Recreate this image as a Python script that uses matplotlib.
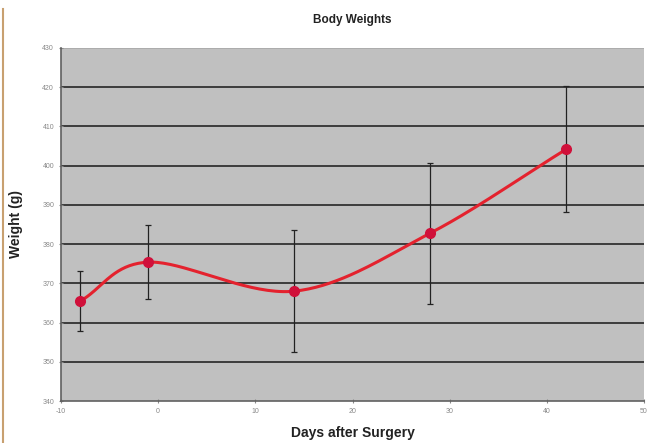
import matplotlib
matplotlib.use("Agg")
import matplotlib.pyplot as plt
import numpy as np
from matplotlib.lines import Line2D

plt.rcParams["font.family"] = ["Liberation Sans", "DejaVu Sans"]
plt.rcParams["axes.unicode_minus"] = False

days = [-8, -1, 14, 28, 42]
weight = [365.5, 375.4, 368.0, 382.8, 404.2]
err = [7.7, 9.4, 15.6, 18.0, 16.1]

x_ticks = [-10, 0, 10, 20, 30, 40, 50]
y_ticks = [340, 350, 360, 370, 380, 390, 400, 410, 420, 430]


def smooth(xs, ys, n=40):
    # Catmull-Rom through the points, like Excel's smoothed line
    xs = np.asarray(xs, float); ys = np.asarray(ys, float)
    px = np.concatenate([[2 * xs[0] - xs[1]], xs, [2 * xs[-1] - xs[-2]]])
    py = np.concatenate([[2 * ys[0] - ys[1]], ys, [2 * ys[-1] - ys[-2]]])
    ox, oy = [], []
    for i in range(1, len(px) - 2):
        t = np.linspace(0, 1, n)
        for p, o in ((px, ox), (py, oy)):
            p0, p1, p2, p3 = p[i - 1], p[i], p[i + 1], p[i + 2]
            o.extend(0.5 * (2 * p1 + (-p0 + p2) * t + (2 * p0 - 5 * p1 + 4 * p2 - p3) * t**2
                            + (-p0 + 3 * p1 - 3 * p2 + p3) * t**3))
    return ox, oy


fig = plt.figure(figsize=(6.5, 4.43), dpi=100, facecolor="white")
ax = fig.add_axes([61 / 650, 1 - 401 / 443, 583 / 650, 353 / 443], facecolor="#c0c0c0")

for yv in y_ticks[1:-1]:
    ax.axhline(yv, color="#3c3c3c", lw=1.4, zorder=1)
ax.axhline(430, color="#a8a8a8", lw=1.2, zorder=1)

sx, sy = smooth(days, weight)
ax.plot(sx, sy, color="#e4222e", lw=2.2, zorder=3, solid_capstyle="round")
ax.errorbar(days, weight, yerr=err, fmt="none", ecolor="#222222", elinewidth=0.9,
            capsize=2.5, capthick=0.9, zorder=4)
ax.plot(days, weight, "o", color="#d0103a", ms=7, zorder=5)

ax.set_xlim(-10, 50)
ax.set_ylim(340, 430)
ax.set_xticks(x_ticks)
ax.set_yticks(y_ticks)
ax.tick_params(labelsize=5, colors="#888888", length=3, direction="inout", width=0.8)
for s in ("top", "right"):
    ax.spines[s].set_visible(False)
for s in ("left", "bottom"):
    ax.spines[s].set_color("#606060")
    ax.spines[s].set_linewidth(1.2)

ax.set_title("Body Weights", fontsize=8.5, fontweight="bold", color="#222222", pad=18)
ax.set_xlabel("Days after Surgery", fontsize=10, fontweight="bold", color="#222222", labelpad=8)
ax.set_ylabel("Weight (g)", fontsize=10, fontweight="bold", color="#222222", labelpad=14)

fig.add_artist(Line2D([2.5 / 650, 2.5 / 650], [0, 1 - 9 / 443], color="#c8a070", lw=1.5))

fig.savefig("out.png", dpi=100, facecolor="white")
